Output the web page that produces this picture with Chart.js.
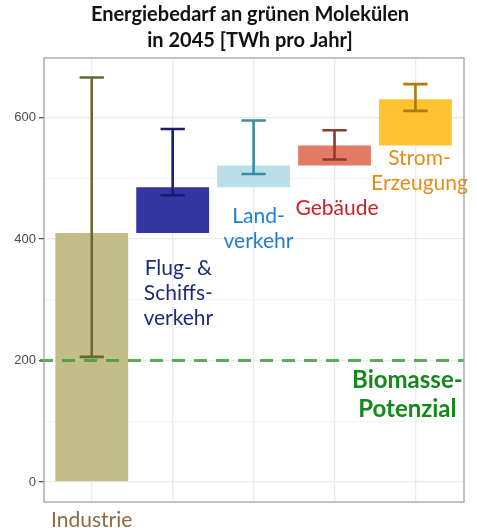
<!DOCTYPE html>
<html lang="de">
<head>
<meta charset="utf-8">
<title>Energiebedarf an grünen Molekülen</title>
<script src="https://cdn.jsdelivr.net/npm/chart.js@4/dist/chart.umd.min.js"></script>
<style>
  html, body { margin: 0; padding: 0; background: #fff; }
  #wrap { width: 477px; height: 528px; position: relative; }
</style>
</head>
<body>
<div id="wrap"><canvas id="demandChart"></canvas></div>
<script>
"use strict";

/**************************************************************
 * Data
 **************************************************************/
const categories = ["Industrie", "Flug- & Schiffsverkehr", "Landverkehr", "Gebäude", "Stromerzeugung"];

// floating bars (start / end of each stacked step, TWh)
const barStart = [0, 410, 485, 521, 554];
const barEnd = [410, 485, 521, 554, 630];

// uncertainty range of the cumulative total
const errLow = [206, 472, 507, 531, 611];
const errHigh = [666, 581, 595, 579, 655];

const biomassPotential = 200;

const yTicks = [0, 200, 400, 600];
const yMinorTicks = [100, 300, 500];

const xTickLabels = ["Industrie", "", "", "", ""];

const titleLines = ["Energiebedarf an grünen Molekülen", "in 2045 [TWh pro Jahr]"];

const barLabels = [
  null,
  ["Flug- &", "Schiffs-", "verkehr"],
  ["Land-", "verkehr"],
  ["Gebäude"],
  ["Strom-", "Erzeugung"],
];
const biomassLabel = ["Biomasse-", "Potenzial"];

/**************************************************************
 * Styles
 **************************************************************/
const barColors = ["#c3bd89", "#3434a2", "#b9dfe9", "#e27a66", "#ffc233"];
const errColors = ["#6b6537", "#1b1b70", "#3a8ca0", "#8c3c2d", "#b07a0c"];
const labelColors = [null, "#1d2b7a", "#1f80d2", "#cc1f24", "#e28e18"];

// label anchors in data units (x, first baseline)
const labelAnchors = [null, [2.07, 341], [3.06, 426], [4.03, 439], [5.05, 522]];

const FONT = "Lato, 'Open Sans', sans-serif";

/**************************************************************
 * Overlay plugin: title, reference line, error bars, annotations
 **************************************************************/
const overlayPlugin = {
  id: "overlay",
  afterDatasetsDraw(chart) {
    const { ctx, chartArea: area } = chart;
    const x = chart.scales.x;
    const y = chart.scales.y;

    ctx.save();

    // title, centred over the panel
    ctx.textAlign = "center";
    ctx.textBaseline = "alphabetic";
    ctx.fillStyle = "#111";
    ctx.font = "bold 20px " + FONT;
    const tx = (area.left + area.right) / 2 - 4;
    titleLines.forEach((t, k) => ctx.fillText(t, tx, 21 + k * 26));

    // biomass potential line
    const yb = y.getPixelForValue(biomassPotential);
    ctx.strokeStyle = "rgba(62,160,62,0.85)";
    ctx.lineWidth = 3;
    ctx.setLineDash([13, 9]);
    ctx.beginPath();
    ctx.moveTo(area.left - 4, yb);
    ctx.lineTo(area.right, yb);
    ctx.stroke();
    ctx.setLineDash([]);

    // error bars
    const capHalf = 0.15;
    ctx.lineWidth = 2.6;
    categories.forEach((c, i) => {
      const xc = x.getPixelForValue(i + 1);
      const xl = x.getPixelForValue(i + 1 - capHalf);
      const xr = x.getPixelForValue(i + 1 + capHalf);
      const yl = y.getPixelForValue(errLow[i]);
      const yh = y.getPixelForValue(errHigh[i]);
      ctx.strokeStyle = errColors[i];
      ctx.beginPath();
      ctx.moveTo(xc, yl);
      ctx.lineTo(xc, yh);
      ctx.moveTo(xl, yl);
      ctx.lineTo(xr, yl);
      ctx.moveTo(xl, yh);
      ctx.lineTo(xr, yh);
      ctx.stroke();
    });

    // category annotations
    ctx.font = "21px " + FONT;
    barLabels.forEach((lines, i) => {
      if (!lines) return;
      const px = x.getPixelForValue(labelAnchors[i][0]);
      const py = y.getPixelForValue(labelAnchors[i][1]);
      ctx.fillStyle = labelColors[i];
      lines.forEach((t, k) => ctx.fillText(t, px, py + k * 25));
    });

    // biomass annotation
    ctx.font = "bold 24px " + FONT;
    ctx.fillStyle = "#13891a";
    const bx = x.getPixelForValue(4.9);
    const by = y.getPixelForValue(154);
    biomassLabel.forEach((t, k) => ctx.fillText(t, bx, by + k * 29));

    // panel frame
    ctx.strokeStyle = "#9a9a9a";
    ctx.lineWidth = 1.2;
    ctx.strokeRect(area.left, area.top, area.right - area.left, area.bottom - area.top);

    ctx.restore();
  },
};

/**************************************************************
 * Chart
 **************************************************************/
function buildChart() {
  const ctx = document.getElementById("demandChart").getContext("2d");

  return new Chart(ctx, {
    type: "bar",
    data: {
      labels: categories,
      datasets: [
        {
          label: "Energiebedarf",
          data: categories.map((c, i) => ({ x: i + 1, y: [barStart[i], barEnd[i]] })),
          backgroundColor: barColors,
          borderWidth: 0,
          barPercentage: 0.9,
          categoryPercentage: 1,
        },
      ],
    },
    options: {
      responsive: true,
      maintainAspectRatio: false,
      animation: false,
      layout: { padding: { left: 0, right: 13, top: 58, bottom: 0 } },
      plugins: {
        legend: { display: false },
        tooltip: { enabled: false },
        title: { display: false },
      },
      scales: {
        x: {
          type: "linear",
          min: 0.41,
          max: 5.6,
          offset: false,
          afterBuildTicks(scale) {
            scale.ticks = categories.map((c, i) => ({ value: i + 1 }));
          },
          afterFit(scale) {
            scale.height = 26;
          },
          ticks: {
            autoSkip: false,
            maxRotation: 0,
            padding: 2,
            color: "#8b6a45",
            font: { family: FONT, size: 21 },
            callback: (v) => xTickLabels[Math.round(v) - 1] || "",
          },
          grid: {
            offset: false,
            color: "#ebebeb",
            lineWidth: 1.3,
            drawTicks: true,
            tickLength: 4,
            tickColor: "transparent",
          },
          border: { display: false },
        },
        y: {
          min: -33,
          max: 698,
          afterBuildTicks(scale) {
            scale.ticks = yTicks.concat(yMinorTicks).sort((a, b) => a - b).map((v) => ({ value: v }));
          },
          afterFit(scale) {
            scale.width = 44;
          },
          ticks: {
            autoSkip: false,
            padding: 3,
            color: "#4d4d4d",
            font: { family: "'Liberation Sans', Arial, sans-serif", size: 13 },
            callback: (v) => (yTicks.includes(v) ? String(v) : ""),
          },
          grid: {
            color: (c) => (yTicks.includes(c.tick && c.tick.value) ? "#ebebeb" : "#f5f5f5"),
            lineWidth: 1.3,
            tickLength: 5,
            tickColor: (c) => (yTicks.includes(c.tick && c.tick.value) ? "#555" : "transparent"),
          },
          border: { display: false },
        },
      },
    },
    plugins: [overlayPlugin],
  });
}

window.addEventListener("DOMContentLoaded", buildChart);
</script>
</body>
</html>
